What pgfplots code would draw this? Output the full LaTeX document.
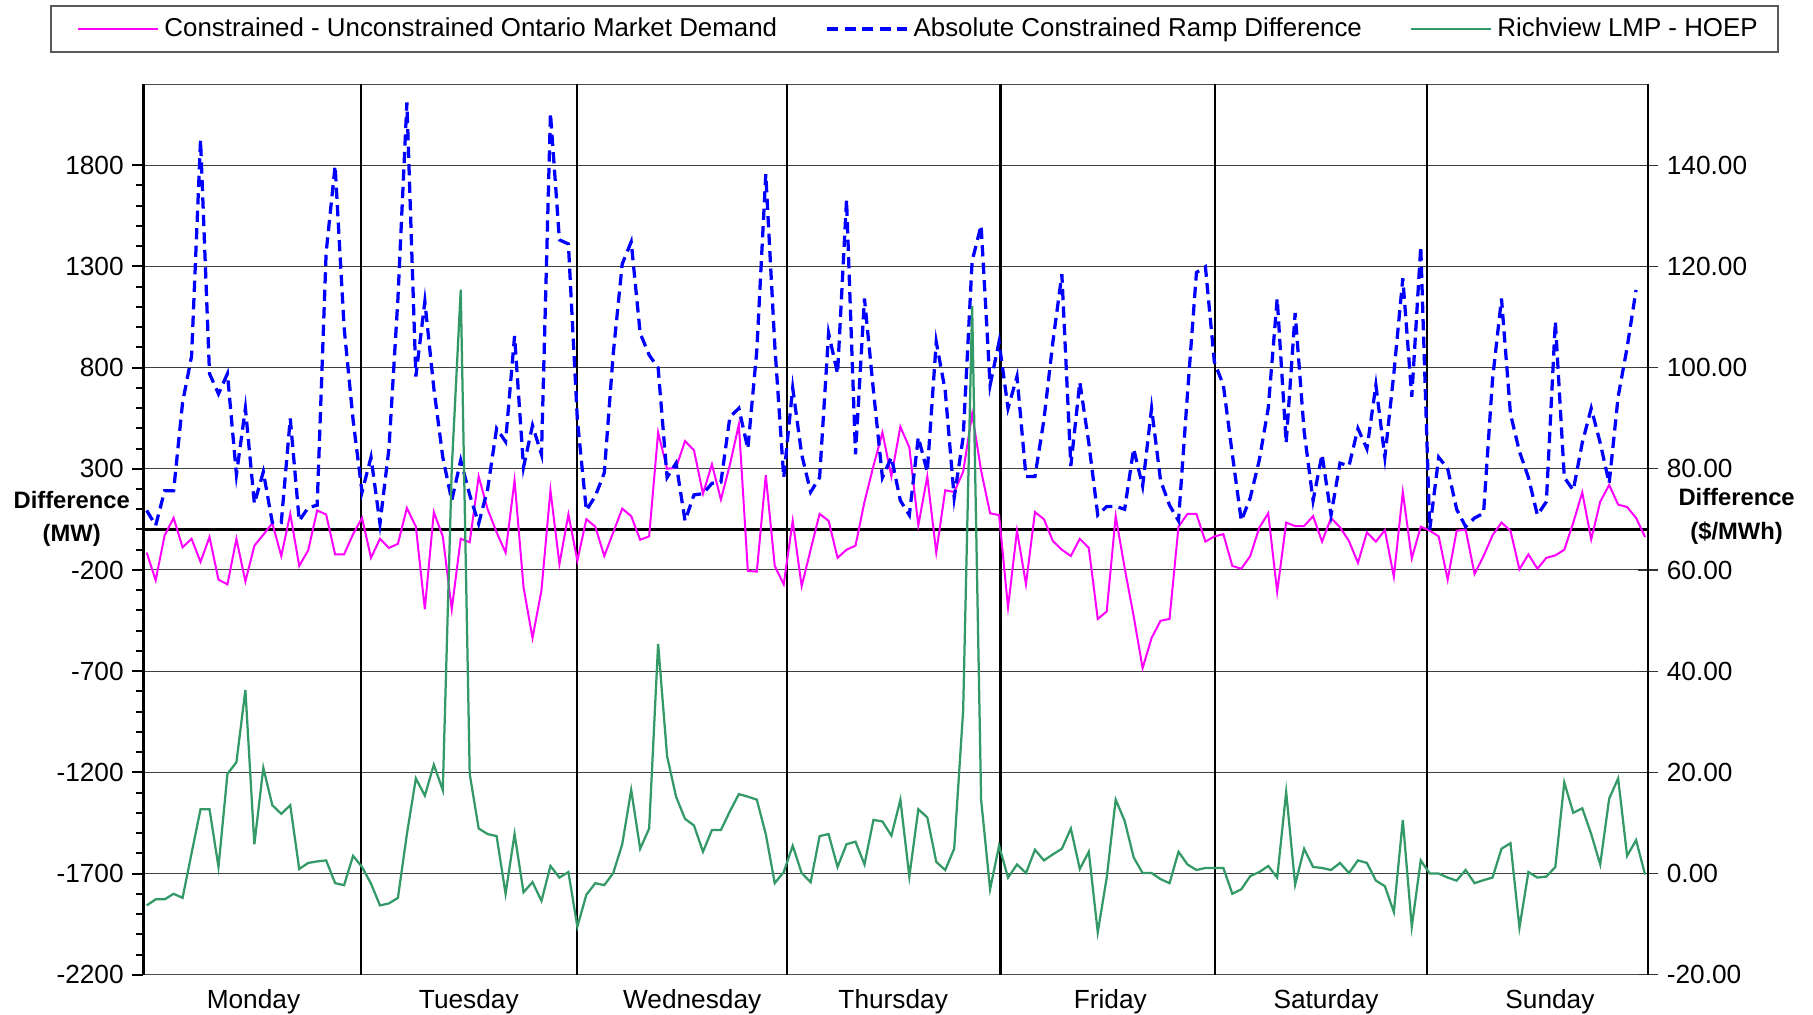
\documentclass[border=0pt]{standalone}
\usepackage{fontspec}
\setmainfont{Liberation Sans}
\usepackage{pgfplots}
\usepackage{pgfplotstable}
\pgfplotsset{compat=1.18}
\definecolor{mag}{RGB}{255,0,255}
\definecolor{blu}{RGB}{0,0,255}
\definecolor{grn}{RGB}{51,153,102}

\pgfplotstableread{
h M B G
0 -114 94 -6.3
1 -251 20 -5.1
2 -29 191 -5.1
3 57 191 -4.0
4 -88 628 -4.8
5 -46 856 4.0
6 -160 1926 12.7
7 -37 770 12.7
8 -248 670 1.3
9 -271 770 19.7
10 -46 271 22.0
11 -257 599 36.3
12 -80 128 5.8
13 -26 285 20.9
14 31 34 13.5
15 -131 34 11.8
16 77 548 13.5
17 -180 43 0.9
18 -103 108 2.1
19 94 120 2.4
20 74 1369 2.6
21 -123 1797 -1.9
22 -123 999 -2.3
23 -23 542 3.5
24 57 185 1.3
25 -140 357 -2.0
26 -46 29 -6.3
27 -91 400 -5.9
28 -71 1141 -4.8
29 106 2110 7.8
30 14 756 18.8
31 -394 1127 15.4
32 86 699 21.5
33 -34 357 16.5
34 -394 143 80.0
35 -46 342 115.4
36 -63 171 19.7
37 262 29 8.9
38 100 200 7.8
39 -14 499 7.4
40 -114 434 -4.0
41 243 956 7.8
42 -285 308 -3.7
43 -536 514 -1.7
44 -300 371 -5.4
45 194 2057 1.5
46 -171 1431 -0.8
47 75 1411 0.3
48 -154 541 -10.5
49 51 94 -4.2
50 14 165 -1.9
51 -131 280 -2.3
52 -14 870 0.1
53 103 1312 5.8
54 66 1421 16.5
55 -51 970 4.9
56 -34 862 8.9
57 479 799 45.4
58 300 257 23.2
59 305 328 15.2
60 437 43 10.8
61 391 171 9.5
62 177 177 4.3
63 322 228 8.6
64 148 234 8.6
65 320 556 12.3
66 519 599 15.7
67 -205 399 15.2
68 -208 884 14.6
69 268 1755 7.8
70 -180 913 -1.9
71 -271 257 0.3
72 43 699 5.5
73 -280 371 0.1
74 -100 185 -1.7
75 77 257 7.4
76 43 970 7.8
77 -140 770 1.3
78 -100 1630 5.8
79 -80 371 6.3
80 137 1141 1.8
81 314 685 10.6
82 479 257 10.3
83 262 357 7.5
84 508 143 14.6
85 405 71 -0.6
86 20 456 12.7
87 262 285 11.1
88 -114 927 2.3
89 194 685 0.7
90 185 157 4.9
91 285 456 32.3
92 571 1327 112.2
93 291 1503 14.6
94 80 713 -3.1
95 71 927 5.5
96 -385 599 -0.8
97 -6 756 1.8
98 -271 262 0.1
99 86 262 4.7
100 51 542 2.6
101 -57 927 3.8
102 -100 1261 4.9
103 -131 314 8.9
104 -46 728 0.9
105 -91 428 4.3
106 -442 71 -11.6
107 -405 114 -0.8
108 66 114 14.6
109 -191 100 10.4
110 -428 399 3.2
111 -685 214 0.1
112 -536 599 0.1
113 -451 242 -1.1
114 -442 120 -1.9
115 14 43 4.3
116 77 670 1.8
117 77 1270 0.7
118 -60 1298 1.1
119 -34 827 1.1
120 -23 713 1.1
121 -180 371 -4.0
122 -194 43 -3.1
123 -131 157 -0.5
124 9 342 0.3
125 80 599 1.5
126 -308 1141 -0.8
127 34 428 16.1
128 17 1070 -2.2
129 17 485 4.9
130 66 143 1.3
131 -60 371 1.1
132 57 71 0.7
133 11 328 2.1
134 -57 314 0.1
135 -165 499 2.6
136 -14 399 2.1
137 -60 713 -1.4
138 -3 357 -2.5
139 -234 770 -7.6
140 185 1241 10.6
141 -143 656 -10.5
142 14 1398 2.6
143 -6 0 0.0
144 -34 357 0.0
145 -248 300 -0.8
146 -6 100 -1.4
147 0 14 0.7
148 -220 57 -1.9
149 -131 80 -1.3
150 -29 742 -0.8
151 34 1141 4.9
152 -6 571 6.0
153 -197 385 -10.7
154 -123 257 0.3
155 -194 71 -0.8
156 -140 137 -0.6
157 -128 1027 1.3
158 -100 257 18.0
159 34 194 12.0
160 183 428 12.9
161 -49 599 7.8
162 137 428 1.8
163 220 228 14.8
164 123 656 18.8
165 111 899 3.5
166 57 1184 6.6
167 -37 nan -0.2
}\data

\begin{document}
\begin{tikzpicture}
\useasboundingbox (0,0) rectangle (725.2pt,406pt);
\begin{axis}[
  name=main,
  at={(57.4pt,16.1pt)}, anchor=south west,
  scale only axis, width=601.8pt, height=356.2pt,
  xmin=-0.357, xmax=167.33, ymin=-2200, ymax=2200,
  axis line style={black!70, line width=0.5pt},
  xtick={11.9,35.9,60.8,83.2,107.4,131.45,156.4},
  xticklabels={Monday,Tuesday,Wednesday,Thursday,Friday,Saturday,Sunday},
  xtick style={draw=none},
  xticklabel style={font=\fontsize{10.5}{12}\selectfont, yshift=-2.3pt},
  extra x ticks={23.89,47.94,71.33,95.16,119.04,142.67},
  extra x tick labels={{},{},{},{},{},{}},
  extra x tick style={grid=major, major grid style={black, line width=0.9pt}},
  ytick={-2200,-1700,...,1800},
  minor y tick num=4,
  ytick pos=left,
  ytick align=outside,
  major tick length=4.4pt, minor tick length=2.8pt,
  ytick style={black, line width=0.8pt},
  ymajorgrids,
  major grid style={black!75, line width=0.4pt},
  extra y ticks={0},
  extra y tick labels={{}},
  extra y tick style={grid=major, major grid style={black, line width=1.4pt}, major tick length=0pt},
  yticklabel style={font=\fontsize{10.5}{12}\selectfont, /pgf/number format/1000 sep={}, /pgf/number format/assume math mode=true},
  ylabel={Difference\\(MW)},
  ylabel style={rotate=-90, at={(axis description cs:-0.0477,0.512)}, anchor=center, align=center, font=\fontsize{9.5}{13.4}\selectfont\bfseries},
  legend columns=3,
  legend style={draw=none, fill=none, at={(-0.0442,1.062)}, anchor=west, inner sep=0pt,
    font=\fontsize{10.35}{12}\selectfont,
    nodes={inner xsep=2pt, inner ysep=1pt},
    /tikz/every even column/.append style={column sep=17.3pt}},
  legend image code/.code={\draw[#1] (0pt,0pt) -- (32pt,0pt);},
]
\addplot[mag, line width=0.8pt] table[x=h, y=M] {\data};
\addlegendentry{Constrained - Unconstrained Ontario Market Demand}
\addplot[blu, line width=1.3pt, dash pattern=on 4.5pt off 2.5pt, unbounded coords=jump] table[x=h, y=B] {\data};
\addlegendentry{Absolute Constrained Ramp Difference}
\addlegendimage{grn, line width=0.9pt}
\addlegendentry{Richview LMP - HOEP}
\end{axis}
\begin{axis}[
  at={(57.4pt,16.1pt)}, anchor=south west,
  scale only axis, width=601.8pt, height=356.2pt,
  xmin=-0.357, xmax=167.33, ymin=-20, ymax=156,
  axis x line=none, axis y line*=right,
  y axis line style={black, line width=0.8pt, -},
  ytick={-20,0,...,140},
  ytick align=center, major tick length=8pt,
  ytick style={black!80, line width=0.5pt},
  yticklabel style={font=\fontsize{10.5}{12}\selectfont, /pgf/number format/.cd, fixed, fixed zerofill, precision=2, assume math mode=true},
  ylabel={Difference\\(\$/MWh)},
  ylabel style={rotate=-90, at={(axis description cs:1.0589,0.515)}, anchor=center, align=center, font=\fontsize{9.5}{13.4}\selectfont\bfseries},
]
\addplot[grn, line width=0.9pt] table[x=h, y=G] {\data};
\end{axis}
\draw[black, line width=1.2pt] (main.south west) -- (main.north west);
\draw[black!65, line width=0.8pt] (20.4pt,385.2pt) rectangle (711.2pt,403.6pt);
\end{tikzpicture}
\end{document}
